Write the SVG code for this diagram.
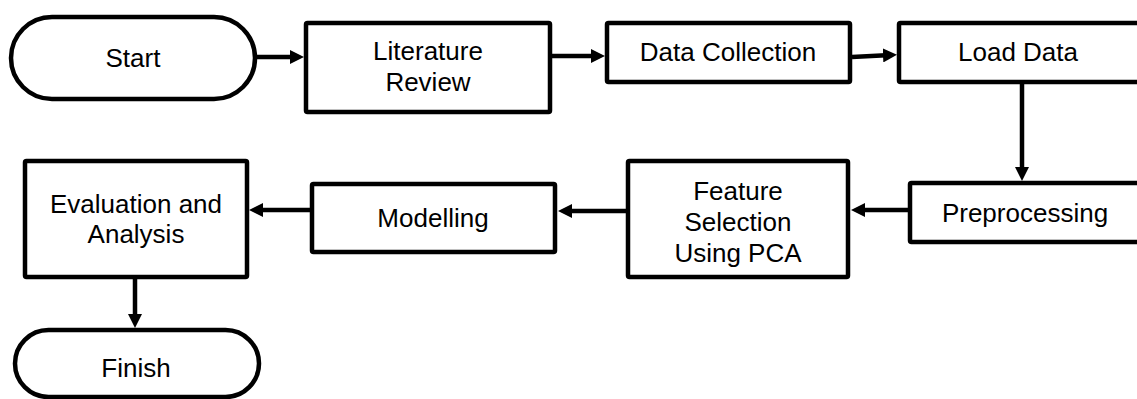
<svg xmlns="http://www.w3.org/2000/svg" width="1137" height="399" viewBox="0 0 1137 399">
<style>
.box{fill:#fff;stroke:#000;stroke-width:4.5;}
.t{font-family:"Liberation Sans",Arial,sans-serif;font-size:26px;fill:#000;text-anchor:middle;}
.c{fill:none;stroke:#000;stroke-width:4.5;marker-end:url(#ah);}
</style>
<defs>
<marker id="ah" markerUnits="userSpaceOnUse" markerWidth="14" markerHeight="14" viewBox="0 0 14 14" refX="3" refY="7" orient="auto">
<path d="M0,0 L14,7 L0,14 z" fill="#000"/>
</marker>
</defs>
<rect width="1137" height="399" fill="#fff"/>
<g id="connectors">
<path class="c" d="M257,57 L293,57"/>
<path class="c" d="M552,56 L594,56"/>
<path class="c" d="M852,57 L886,55.3"/>
<path class="c" d="M1022,83 L1022,170"/>
<path class="c" d="M908,210 L862,210"/>
<path class="c" d="M626,211 L569,211"/>
<path class="c" d="M310,210 L260,210"/>
<path class="c" d="M135,279 L135,317"/>
</g>
<g id="start">
<rect class="box" x="11" y="17" width="244" height="82" rx="41"/>
<text class="t" x="133" y="67">Start</text>
</g>
<g id="literature">
<rect class="box" x="306" y="23" width="244" height="89" rx="1.5"/>
<text class="t" x="428" y="60">Literature</text>
<text class="t" x="428" y="91">Review</text>
</g>
<g id="datacollection">
<rect class="box" x="607" y="23" width="243" height="59" rx="1.5"/>
<text class="t" x="728" y="61">Data Collection</text>
</g>
<g id="loaddata">
<rect class="box" x="899" y="23" width="245" height="59" rx="1.5"/>
<text class="t" x="1018" y="61">Load Data</text>
</g>
<g id="preprocessing">
<rect class="box" x="910" y="183" width="235" height="59" rx="1.5"/>
<text class="t" x="1025" y="222">Preprocessing</text>
</g>
<g id="featureselection">
<rect class="box" x="628" y="161" width="220" height="116" rx="1.5"/>
<text class="t" x="738" y="200">Feature</text>
<text class="t" x="738" y="231">Selection</text>
<text class="t" x="738" y="262">Using PCA</text>
</g>
<g id="modelling">
<rect class="box" x="312" y="184" width="243" height="68" rx="1.5"/>
<text class="t" x="433" y="227">Modelling</text>
</g>
<g id="evaluation">
<rect class="box" x="25" y="161" width="222" height="116" rx="1.5"/>
<text class="t" x="136" y="213">Evaluation and</text>
<text class="t" x="136" y="243">Analysis</text>
</g>
<g id="finish">
<rect class="box" x="15" y="330" width="244" height="67" rx="33.5"/>
<text class="t" x="136" y="377">Finish</text>
</g>
</svg>
